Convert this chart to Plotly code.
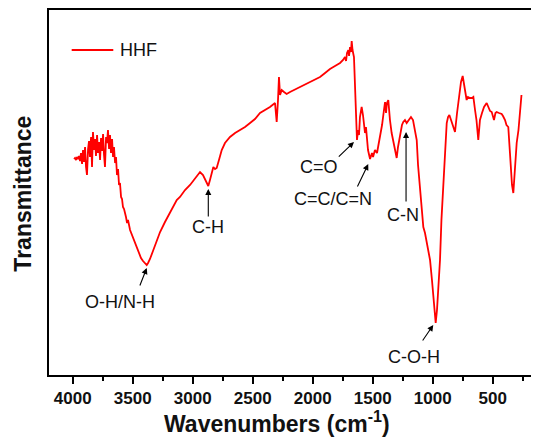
import plotly.graph_objects as go

# ---- spectrum data ----
wavenumber = [
    3989, 3981, 3972, 3964, 3956, 3947, 3939, 3931, 3922, 3914, 3906, 3897, 3889, 3881,
    3872, 3864, 3856, 3847, 3839, 3831, 3822, 3814, 3806, 3797, 3789, 3781, 3772, 3764,
    3756, 3747, 3739, 3731, 3722, 3714, 3706, 3697, 3689, 3681, 3672, 3664, 3656, 3647,
    3639, 3631, 3622, 3614, 3606, 3597, 3589, 3581, 3572, 3564, 3556, 3547, 3539, 3522,
    3506, 3497, 3481, 3464, 3447, 3431, 3414, 3397, 3383, 3372, 3356, 3331, 3300, 3272,
    3231, 3189, 3133, 3106, 3064, 3022, 2981, 2939, 2914, 2889, 2870, 2856, 2839, 2828,
    2814, 2800, 2781, 2758, 2731, 2689, 2647, 2606, 2564, 2522, 2481, 2439, 2397, 2356,
    2314, 2300, 2289, 2281, 2272, 2258, 2239, 2217, 2189, 2106, 2022, 1939, 1897, 1856,
    1814, 1772, 1747, 1731, 1722, 1714, 1703, 1697, 1689, 1681, 1675, 1668, 1656, 1647,
    1639, 1631, 1622, 1614, 1606, 1592, 1581, 1572, 1564, 1556, 1547, 1539, 1522, 1506,
    1497, 1481, 1464, 1439, 1422, 1406, 1397, 1389, 1381, 1370, 1364, 1356, 1342, 1331,
    1314, 1300, 1289, 1272, 1256, 1245, 1231, 1217, 1197, 1181, 1164, 1147, 1133, 1122,
    1106, 1091, 1078, 1064, 1047, 1035, 1022, 1006, 989, 975, 964, 951, 939, 927,
    912, 897, 883, 872, 861, 847, 828, 814, 797, 781, 764, 750, 739, 726,
    717, 706, 689, 672, 661, 647, 635, 620, 606, 589, 572, 550, 539, 522,
    508, 497, 489, 477, 467, 447, 425, 414, 397, 385, 370, 356, 339, 328,
    314, 300, 285, 272, 260,
]
transmittance = [
    216, 217, 215, 218, 216, 219, 214, 222, 211, 225, 213, 228, 208, 200,
    226, 234, 218, 238, 208, 243, 225, 236, 219, 240, 222, 233, 215, 237,
    224, 241, 220, 208, 238, 232, 245, 226, 240, 222, 236, 218, 228, 212,
    218, 200, 206, 190, 192, 178, 176, 168, 166, 160, 158, 152, 155, 145,
    140, 136, 132, 126, 121, 117, 114, 112, 110, 112, 116, 124, 135, 143,
    153, 162, 175, 178, 185, 190, 196, 203, 200, 193, 189, 195, 205, 208,
    206, 207, 215, 225, 232, 238, 242, 245, 248, 252, 256, 262, 265, 268,
    272, 253, 275, 298, 280, 285, 283, 281, 283, 288, 293, 298, 302, 306,
    309, 312, 315, 318, 314, 322, 325, 319, 328, 323, 334, 325, 318, 290,
    250, 235, 245, 240, 258, 268, 260, 250, 242, 248, 232, 225, 216, 222,
    218, 225, 222, 238, 250, 265, 273, 262, 272, 275, 262, 255, 242, 235,
    225, 217, 228, 240, 250, 253, 255, 252, 256, 258, 255, 245, 235, 210,
    190, 165, 148, 142, 132, 125, 115, 95, 70, 52, 65, 90, 115, 155,
    192, 225, 252, 258, 260, 255, 248, 243, 262, 280, 293, 299, 292, 283,
    275, 278, 277, 277, 278, 265, 255, 235, 255, 262, 268, 272, 268, 264,
    263, 257, 255, 262, 263, 262, 261, 259, 255, 250, 248, 222, 190, 182,
    210, 232, 245, 262, 280,
]

# ---- band labels: text, arrow tip (w, T), arrow tail (w, T), text centre (w, T) ----
band_labels = ["O-H/N-H", "C-H", "C=O", "C=C/C=N", "C-N", "C-O-H"]
tip_w = [3383, 2870, 1656, 1537, 1222, 995]
tip_t = [107, 186, 233, 211, 243, 50]
tail_w = [3445, 2870, 1795, 1633, 1222, 1092]
tail_t = [88, 157, 217, 187, 172, 33]
label_w = [3606, 2870, 1945, 1828, 1245, 1153]
label_t = [73, 148, 208, 176, 160, 18]

x_ticks = [4000, 3500, 3000, 2500, 2000, 1500, 1000, 500]
x_minor_ticks = [3750, 3250, 2750, 2250, 1750, 1250, 750, 250]

FONT = "Liberation Sans, Arial, sans-serif"

fig = go.Figure()
fig.add_trace(go.Scatter(
    x=wavenumber, y=transmittance, mode="lines", name="HHF",
    line=dict(color="#ff0000", width=1.8), showlegend=False,
))

annotations = []
for i, lab in enumerate(band_labels):
    annotations.append(dict(
        x=tip_w[i], y=tip_t[i], ax=tail_w[i], ay=tail_t[i],
        xref="x", yref="y", axref="x", ayref="y",
        text="", showarrow=True, arrowhead=2, arrowsize=1.1,
        arrowwidth=1.1, arrowcolor="#000000",
    ))
    annotations.append(dict(
        x=label_w[i], y=label_t[i], xref="x", yref="y",
        text=lab, showarrow=False, xanchor="center", yanchor="middle",
        font=dict(family=FONT, size=18, color="#111111"),
    ))

# legend (drawn manually)
annotations.append(dict(
    x=0.1408, y=0.8904, xref="paper", yref="paper", text="HHF",
    showarrow=False, xanchor="left", yanchor="middle",
    font=dict(family=FONT, size=18, color="#111111"),
))
# axis titles
annotations.append(dict(
    x=0.466, y=-0.128, xref="paper", yref="paper",
    text="<b>Wavenumbers (cm<sup>-1</sup>)</b>",
    showarrow=False, xanchor="center", yanchor="middle",
    font=dict(family=FONT, size=23, color="#111111"),
))
annotations.append(dict(
    x=-0.053, y=0.497, xref="paper", yref="paper",
    text="<b>Transmittance</b>", textangle=-90,
    showarrow=False, xanchor="center", yanchor="middle",
    font=dict(family=FONT, size=23, color="#111111"),
))

# the page body has an 8px margin, so the figure is sized 8px smaller
fig.update_layout(
    width=531, height=433,
    margin=dict(l=41, r=0, t=2, b=66),
    paper_bgcolor="white", plot_bgcolor="white",
    annotations=annotations,
    shapes=[dict(type="line", xref="paper", yref="paper",
                 x0=0.0463, x1=0.1312, y0=0.8904, y1=0.8904,
                 line=dict(color="#ff0000", width=1.8))],
    xaxis=dict(
        range=[4197.5, 114], tickvals=x_ticks,
        ticktext=[f"<b>{v}</b>" for v in x_ticks],
        ticks="outside", ticklen=7, tickwidth=2, tickcolor="black",
        showline=True, linewidth=2, linecolor="black", mirror=True,
        showgrid=False, zeroline=False, automargin=False,
        tickfont=dict(family=FONT, size=17, color="#111111"),
        minor=dict(tickvals=x_minor_ticks,
                   ticks="outside", ticklen=4, tickwidth=2, tickcolor="black",
                   showgrid=False),
    ),
    yaxis=dict(
        range=[0, 365], showticklabels=False, ticks="",
        showline=True, linewidth=2, linecolor="black", mirror=False,
        showgrid=False, zeroline=False, automargin=False,
    ),
)

fig.write_html("out.html")
